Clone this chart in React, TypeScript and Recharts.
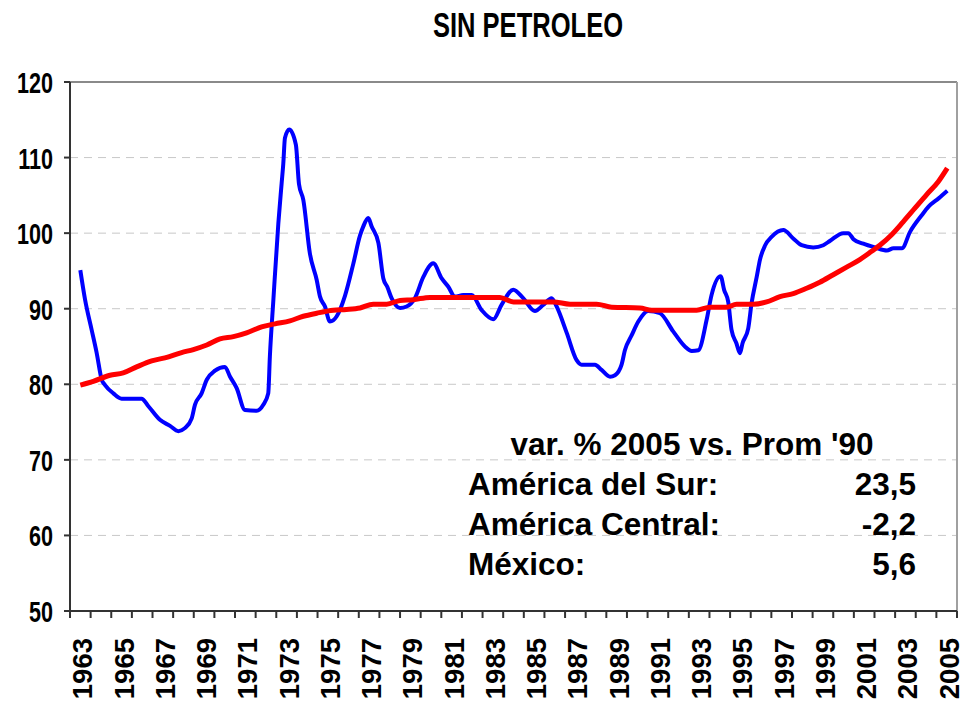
import { LineChart, Line, XAxis, YAxis, CartesianGrid, ReferenceLine } from "recharts";

// blue series (decimal years, index values)
const blueYears = [
  1963.0, 1963.23, 1963.55, 1963.79, 1964.04, 1964.2, 1964.6, 1965.0, 1965.97, 1966.3,
  1966.86, 1967.35, 1967.75, 1968.07, 1968.4, 1968.56, 1968.88, 1969.13, 1969.53, 1970.01,
  1970.26, 1970.58, 1970.98, 1971.55, 1971.87, 1972.11, 1972.19, 1972.36, 1972.6, 1972.76,
  1972.84, 1972.92, 1973.13, 1973.45, 1973.6, 1973.81, 1974.13, 1974.46, 1974.62, 1974.86,
  1975.1, 1975.43, 1975.83, 1976.23, 1976.56, 1976.72, 1976.96, 1977.12, 1977.45, 1977.69,
  1977.88, 1978.09, 1978.5, 1978.82, 1979.22, 1979.63, 1980.11, 1980.52, 1980.84, 1981.16,
  1981.56, 1981.97, 1982.46, 1983.02, 1983.42, 1983.99, 1984.47, 1985.04, 1985.44, 1985.85,
  1986.09, 1986.58, 1987.06, 1987.3, 1987.95, 1988.27, 1988.68, 1988.92, 1989.24, 1989.4,
  1989.73, 1990.05, 1990.53, 1991.1, 1991.74, 1992.31, 1992.64, 1992.96, 1993.36, 1993.6,
  1994.04, 1994.21, 1994.41, 1994.57, 1994.81, 1994.98, 1995.1, 1995.38, 1995.54, 1995.79,
  1995.95, 1996.2, 1996.51, 1997.08, 1997.56, 1997.97, 1998.53, 1999.02, 1999.35, 1999.99,
  2000.23, 2000.48, 2000.96, 2001.53, 2002.1, 2002.42, 2002.83, 2003.23, 2003.8, 2004.12,
  2004.61, 2005.03,
];
const blueValues = [
  95.1, 91.2, 87.2, 84.2, 80.6, 79.9, 78.8, 78.1, 78.1, 77.1,
  75.3, 74.5, 73.8, 74.2, 75.5, 77.3, 78.8, 80.6, 81.8, 82.3,
  81.0, 79.5, 76.6, 76.5, 77.3, 78.8, 83.7, 91.2, 101.3, 106.6,
  109.2, 112.6, 113.7, 111.7, 106.5, 104.4, 97.3, 93.8, 91.6, 90.3,
  88.3, 89.0, 91.7, 95.9, 99.7, 100.9, 102.0, 100.9, 98.7, 94.0,
  92.9, 91.4, 90.1, 90.3, 91.4, 94.2, 96.0, 94.0, 92.9, 91.6,
  91.8, 91.8, 89.8, 88.6, 90.5, 92.5, 91.4, 89.7, 90.5, 91.4,
  90.3, 86.8, 83.2, 82.6, 82.6, 81.9, 81.0, 81.2, 82.6, 84.5,
  86.5, 88.3, 89.7, 89.4, 87.0, 85.0, 84.4, 84.5, 88.5, 91.8,
  94.3, 92.5, 90.9, 87.2, 85.4, 84.1, 85.4, 87.4, 90.7, 94.2,
  96.5, 98.4, 99.5, 100.4, 99.3, 98.4, 98.1, 98.4, 99.0, 100.0,
  100.0, 99.2, 98.6, 98.1, 97.7, 98.0, 98.0, 100.2, 102.4, 103.5,
  104.6, 105.6,
];

// red series (trend)
const redYears = [
  1963.0, 1963.63, 1964.44, 1965.08, 1965.73, 1966.46, 1967.1, 1967.91, 1968.48, 1969.13,
  1969.77, 1970.42, 1971.06, 1971.79, 1972.44, 1973.16, 1973.81, 1974.46, 1975.26, 1975.9,
  1976.56, 1977.2, 1977.85, 1978.5, 1979.14, 1979.95, 1983.34, 1984.0, 1985.93, 1986.74,
  1988.03, 1988.76, 1990.13, 1990.7, 1992.88, 1993.52, 1994.33, 1994.81, 1995.62, 1996.27,
  1996.92, 1997.56, 1998.21, 1998.85, 1999.5, 2000.15, 2000.79, 2001.36, 2001.76, 2002.33,
  2002.89, 2003.46, 2004.03, 2004.59, 2005.03,
];
const redValues = [
  79.9, 80.4, 81.2, 81.5, 82.3, 83.1, 83.5, 84.2, 84.6, 85.2,
  86.0, 86.3, 86.8, 87.6, 88.0, 88.4, 89.0, 89.4, 89.8, 89.9,
  90.1, 90.6, 90.6, 91.1, 91.2, 91.5, 91.5, 90.9, 90.9, 90.6,
  90.6, 90.2, 90.1, 89.8, 89.8, 90.2, 90.2, 90.6, 90.6, 90.9,
  91.6, 92.0, 92.7, 93.5, 94.5, 95.5, 96.5, 97.6, 98.4, 99.8,
  101.5, 103.3, 105.1, 106.8, 108.6,
];

const yTicks = [50, 60, 70, 80, 90, 100, 110, 120];
const firstYear = 1963;
const lastYear = 2005;
// tick marks sit between years, labels every second year
const yearBounds = Array.from({ length: lastYear - firstYear + 2 }, (_, i) => firstYear - 0.5 + i);

const noteTitle = "var. % 2005 vs. Prom '90";
const noteRegions = ["América del Sur:", "América Central:", "México:"];
const noteValues = ["23,5", "-2,2", "5,6"];

const blueData = blueYears.map((t, i) => ({ t, v: blueValues[i] }));
const redData = redYears.map((t, i) => ({ t, v: redValues[i] }));

const FONT = "'Liberation Sans', Arial, sans-serif";

function YTick({ x, y, payload }: any) {
  return (
    <g transform={`translate(${x},${y + 11})`}>
      <text transform="scale(0.72,1)" textAnchor="end" fontFamily={FONT} fontWeight="bold" fontSize={30} fill="#000">
        {payload.value}
      </text>
    </g>
  );
}

function XTick({ x, y, payload, width }: any) {
  const year = payload.value + 0.5;
  const half = (width || 887) / (lastYear - firstYear + 1) / 2;
  const showLabel = year <= lastYear && (year - firstYear) % 2 === 0;
  return (
    <g>
      <line x1={x} y1={y} x2={x} y2={y + 7} stroke="#333" strokeWidth={2} />
      {showLabel && (
        <g transform={`translate(${x + half + 12},${y + 27}) rotate(-90)`}>
          <text textAnchor="end" fontFamily={FONT} fontWeight="bold" fontSize={27.5} fill="#000">
            {year}
          </text>
        </g>
      )}
    </g>
  );
}

export default function App() {
  return (
    <div style={{ position: "absolute", left: 0, top: 0, width: 964, height: 707, background: "#fff" }}>
      <LineChart width={964} height={707} data={blueData} margin={{ top: 82, right: 7, left: 10, bottom: 6 }}>
        <CartesianGrid vertical={false} stroke="#c8c8c8" strokeDasharray="8 6" />
        <XAxis
          dataKey="t"
          type="number"
          domain={[firstYear - 0.5, lastYear + 0.5]}
          ticks={yearBounds}
          interval={0}
          tick={<XTick />}
          tickLine={false}
          tickSize={0}
          tickMargin={0}
          height={90}
          stroke="#333"
          strokeWidth={2}
        />
        <YAxis
          type="number"
          domain={[50, 120]}
          ticks={yTicks}
          interval={0}
          width={60}
          tickSize={6}
          tickMargin={11}
          tick={<YTick />}
          stroke="#333"
          strokeWidth={2}
        />
        <ReferenceLine y={120} stroke="#8a8a8a" strokeWidth={2} />
        <ReferenceLine x={lastYear + 0.5} stroke="#a0a0a0" strokeWidth={2} />
        <Line
          data={blueData}
          dataKey="v"
          type="monotone"
          stroke="#0000ff"
          strokeWidth={4}
          dot={false}
          isAnimationActive={false}
        />
        <Line
          data={redData}
          dataKey="v"
          type="monotone"
          stroke="#ff0000"
          strokeWidth={5}
          dot={false}
          isAnimationActive={false}
        />
      </LineChart>
      <svg width={964} height={707} style={{ position: "absolute", left: 0, top: 0, pointerEvents: "none" }}>
        <g transform="translate(528,37)">
          <text transform="scale(0.71,1)" textAnchor="middle" fontFamily={FONT} fontWeight="bold" fontSize={36} fill="#000">
            SIN PETROLEO
          </text>
        </g>
        <text x={692} y={455} textAnchor="middle" fontFamily={FONT} fontWeight="bold" fontSize={31.5} fill="#000">
          {noteTitle}
        </text>
        {noteRegions.map((r, i) => (
          <g key={r}>
            <text x={468} y={495 + i * 40} fontFamily={FONT} fontWeight="bold" fontSize={31.5} fill="#000">
              {r}
            </text>
            <text x={916} y={495 + i * 40} textAnchor="end" fontFamily={FONT} fontWeight="bold" fontSize={31.5} fill="#000">
              {noteValues[i]}
            </text>
          </g>
        ))}
      </svg>
    </div>
  );
}
